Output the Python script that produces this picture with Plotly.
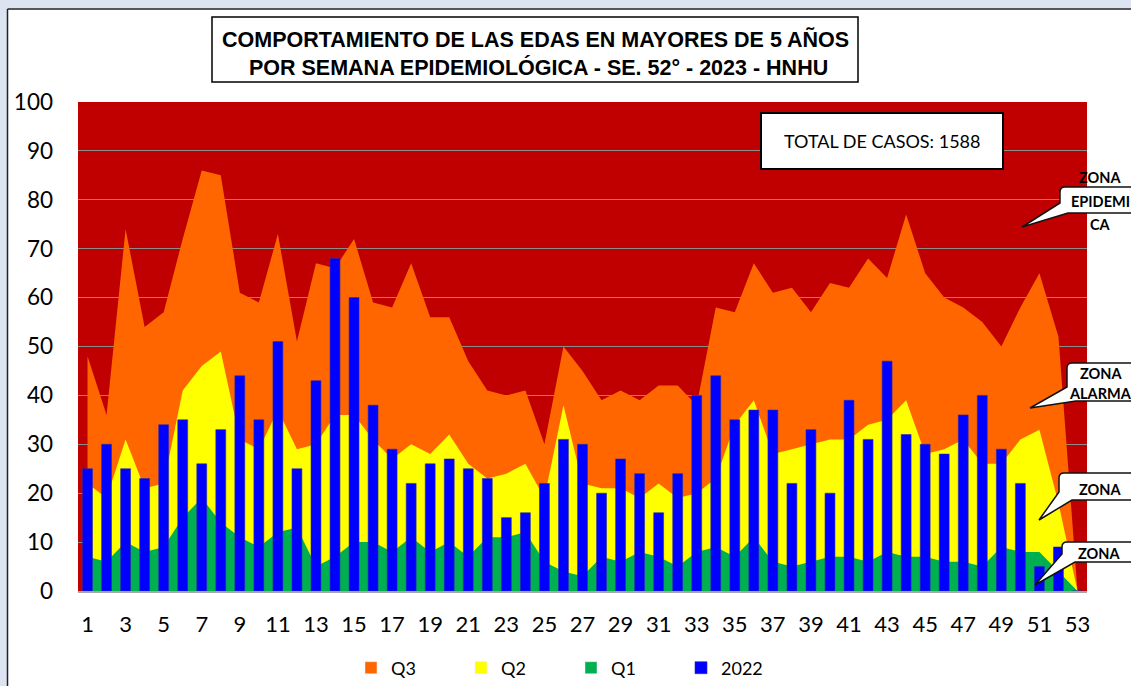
import plotly.graph_objects as go

# ---------------- data ----------------
weeks = list(range(1, 54))
q3 = [48, 36, 74, 54, 57, 72, 86, 85, 61, 59, 73, 51,
      67, 66, 72, 59, 58, 67, 56, 56, 47, 41, 40, 41, 30, 50,
      45, 39, 41, 39, 42, 42, 38, 58, 57, 67, 61, 62, 57, 63, 62,
      68, 64, 77, 65, 60, 58, 55, 50, 58, 65, 52, 0]
q2 = [22, 19, 31, 21, 22, 41, 46, 49, 31, 29, 37, 29,
      30, 36, 36, 31, 27, 30, 28, 32, 26, 23, 24, 26, 19, 38,
      22, 21, 21, 19, 22, 19, 20, 23, 34, 39, 28, 29, 30, 31, 31,
      34, 35, 39, 28, 29, 31, 26, 26, 31, 33, 18, 0]
q1 = [7, 6, 10, 8, 9, 15, 19, 14, 11, 9, 12, 13,
      5, 7, 10, 10, 8, 11, 8, 10, 7, 11, 11, 12, 6, 4,
      3, 7, 6, 8, 7, 5, 8, 9, 7, 11, 6, 5, 6, 7, 7,
      6, 8, 7, 7, 6, 6, 5, 9, 8, 8, 4, 0]
cases_2022 = [25, 30, 25, 23, 34, 35, 26, 33, 44, 35, 51, 25,
              43, 68, 60, 38, 29, 22, 26, 27, 25, 23, 15, 16, 22, 31,
              30, 20, 27, 24, 16, 24, 40, 44, 35, 37, 37, 22, 33, 20, 39,
              31, 47, 32, 30, 28, 36, 40, 29, 22, 5, 9, 0]
x_ticks = list(range(1, 54, 2))
y_ticks = list(range(0, 101, 10))
series_names = ["Q3", "Q2", "Q1", "2022"]
title_lines = ["COMPORTAMIENTO DE LAS EDAS EN MAYORES DE 5 AÑOS",
               " POR SEMANA EPIDEMIOLÓGICA - SE. 52° - 2023 - HNHU"]
total_text = "TOTAL DE CASOS: 1588"

# ---------------- style ----------------
C_BG = "#C00000"
C_Q3 = "#FF6600"
C_Q2 = "#FFFF00"
C_Q1 = "#00B050"
C_BAR = "#0000FF"
FONT = "Lato"

W, H = 1131, 686
L, T, R, B = 78, 102, 1087, 591
PW, PH = R - L, B - T


def X(px):
    return (px - L) / PW


def Y(py):
    return (B - py) / PH


fig = go.Figure()

for vals, col in [(q3, C_Q3), (q2, C_Q2), (q1, C_Q1)]:
    fig.add_trace(go.Scatter(x=weeks, y=vals, mode="none", fill="tozeroy",
                             fillcolor=col, showlegend=False, hoverinfo="x+y"))

# legend entries for the areas (square symbols)
for name, col in zip(series_names[:3], [C_Q3, C_Q2, C_Q1]):
    fig.add_trace(go.Bar(x=[None], y=[None], name=name, marker_color=col,
                         showlegend=True))

fig.add_trace(go.Bar(x=weeks, y=cases_2022, name=series_names[3],
                     marker=dict(color=C_BAR, line=dict(color="#2a2ab0", width=0.6)),
                     width=0.52, xaxis="x2", yaxis="y2"))

shapes = []
# page frame
shapes.append(dict(type="rect", xref="paper", yref="paper", x0=X(0), x1=X(W), y0=Y(0), y1=Y(8.5),
                   fillcolor="#DCE3F1", line=dict(width=0), layer="below"))
shapes.append(dict(type="rect", xref="paper", yref="paper", x0=X(0), x1=X(7), y0=Y(0), y1=Y(H),
                   fillcolor="#DCE3F1", line=dict(width=0), layer="below"))
shapes.append(dict(type="line", xref="paper", yref="paper", x0=X(7.5), x1=X(W), y0=Y(9), y1=Y(9),
                   line=dict(color="#222222", width=1.5)))
shapes.append(dict(type="line", xref="paper", yref="paper", x0=X(7.5), x1=X(7.5), y0=Y(9), y1=Y(H),
                   line=dict(color="#222222", width=1.5)))
# title box
shapes.append(dict(type="rect", xref="paper", yref="paper", x0=X(212), x1=X(858), y0=Y(17), y1=Y(82),
                   fillcolor="white", line=dict(color="black", width=1.5)))
# total box
shapes.append(dict(type="rect", xref="paper", yref="paper", x0=X(761), x1=X(1003), y0=Y(113), y1=Y(169),
                   fillcolor="white", line=dict(color="black", width=2)))


def callout(x0, y0, x1, y1, ly, bx, tx, ty, r=5):
    def p(a, b):
        return f"{X(a):.5f},{Y(b):.5f}"
    d = (f"M{p(x0 + r, y0)} L{p(x1 - r, y0)} Q{p(x1, y0)} {p(x1, y0 + r)} "
         f"L{p(x1, y1 - r)} Q{p(x1, y1)} {p(x1 - r, y1)} L{p(bx, y1)} L{p(tx, ty)} "
         f"L{p(x0, ly)} L{p(x0, y0 + r)} Q{p(x0, y0)} {p(x0 + r, y0)} Z")
    return dict(type="path", xref="paper", yref="paper", path=d, fillcolor="white",
                line=dict(color="#111111", width=1.5))


shapes.append(callout(1060, 187, 1150, 213, 203, 1068, 1022, 227))
shapes.append(callout(1067, 363, 1150, 401, 387, 1076, 1030, 408))
shapes.append(callout(1059, 473, 1150, 500, 492, 1072, 1039, 520))
shapes.append(callout(1062, 542, 1150, 562, 554, 1075, 1035, 585))

annotations = []
annotations.append(dict(xref="paper", yref="paper", x=X(535), y=Y(53), xanchor="center", yanchor="middle",
                        text="<b>" + title_lines[0] + "<br>" + title_lines[1] + "</b>", showarrow=False,
                        font=dict(family="Liberation Sans", size=21.5, color="black")))
annotations.append(dict(xref="paper", yref="paper", x=X(882), y=Y(141), xanchor="center", yanchor="middle",
                        text=total_text, showarrow=False,
                        font=dict(family=FONT, size=18, color="black")))
for txt, cx, cy in [("ZONA", 1100, 178), ("EPIDEMI", 1100, 201), ("CA", 1100, 224),
                    ("ZONA", 1101, 373), ("ALARMA", 1100, 393),
                    ("ZONA", 1100, 489), ("ZONA", 1099, 553)]:
    annotations.append(dict(xref="paper", yref="paper", x=X(cx), y=Y(cy), xanchor="center", yanchor="middle",
                            text="<b>" + txt + "</b>", showarrow=False,
                            font=dict(family=FONT, size=14.5, color="black")))

fig.update_layout(
    width=W, height=H,
    margin=dict(l=L, r=W - R, t=T, b=H - B, autoexpand=False),
    paper_bgcolor="white", plot_bgcolor=C_BG,
    barmode="overlay",
    showlegend=True,
    legend=dict(orientation="h", x=X(351), y=Y(668), xanchor="left", yanchor="middle",
                font=dict(family=FONT, size=18, color="black"),
                entrywidth=65, entrywidthmode="pixels", itemwidth=30,
                traceorder="normal", bgcolor="rgba(0,0,0,0)"),
    xaxis=dict(range=[0.5, 53.5], tickmode="array", tickvals=x_ticks,
               ticktext=[str(t) for t in x_ticks], showgrid=False, zeroline=False,
               showline=True, linecolor="#A6A6A6", linewidth=1.5, ticks="",
               tickfont=dict(family=FONT, size=22, color="black"), ticklabelstandoff=13),
    yaxis=dict(range=[0, 100], tickmode="array", tickvals=y_ticks, showgrid=True,
               gridcolor="#8C8C8C", gridwidth=1, zeroline=False, ticks="",
               tickfont=dict(family=FONT, size=22.5, color="black"), ticklabelstandoff=24),
    xaxis2=dict(range=[0.5, 53.5], overlaying="x", visible=False),
    yaxis2=dict(range=[0, 100], overlaying="y", visible=False),
    shapes=shapes, annotations=annotations,
    font=dict(family=FONT),
)

fig.write_html("out.html", config={"displayModeBar": False},
               post_script="document.body.style.margin='0';document.body.style.overflow='hidden';")
